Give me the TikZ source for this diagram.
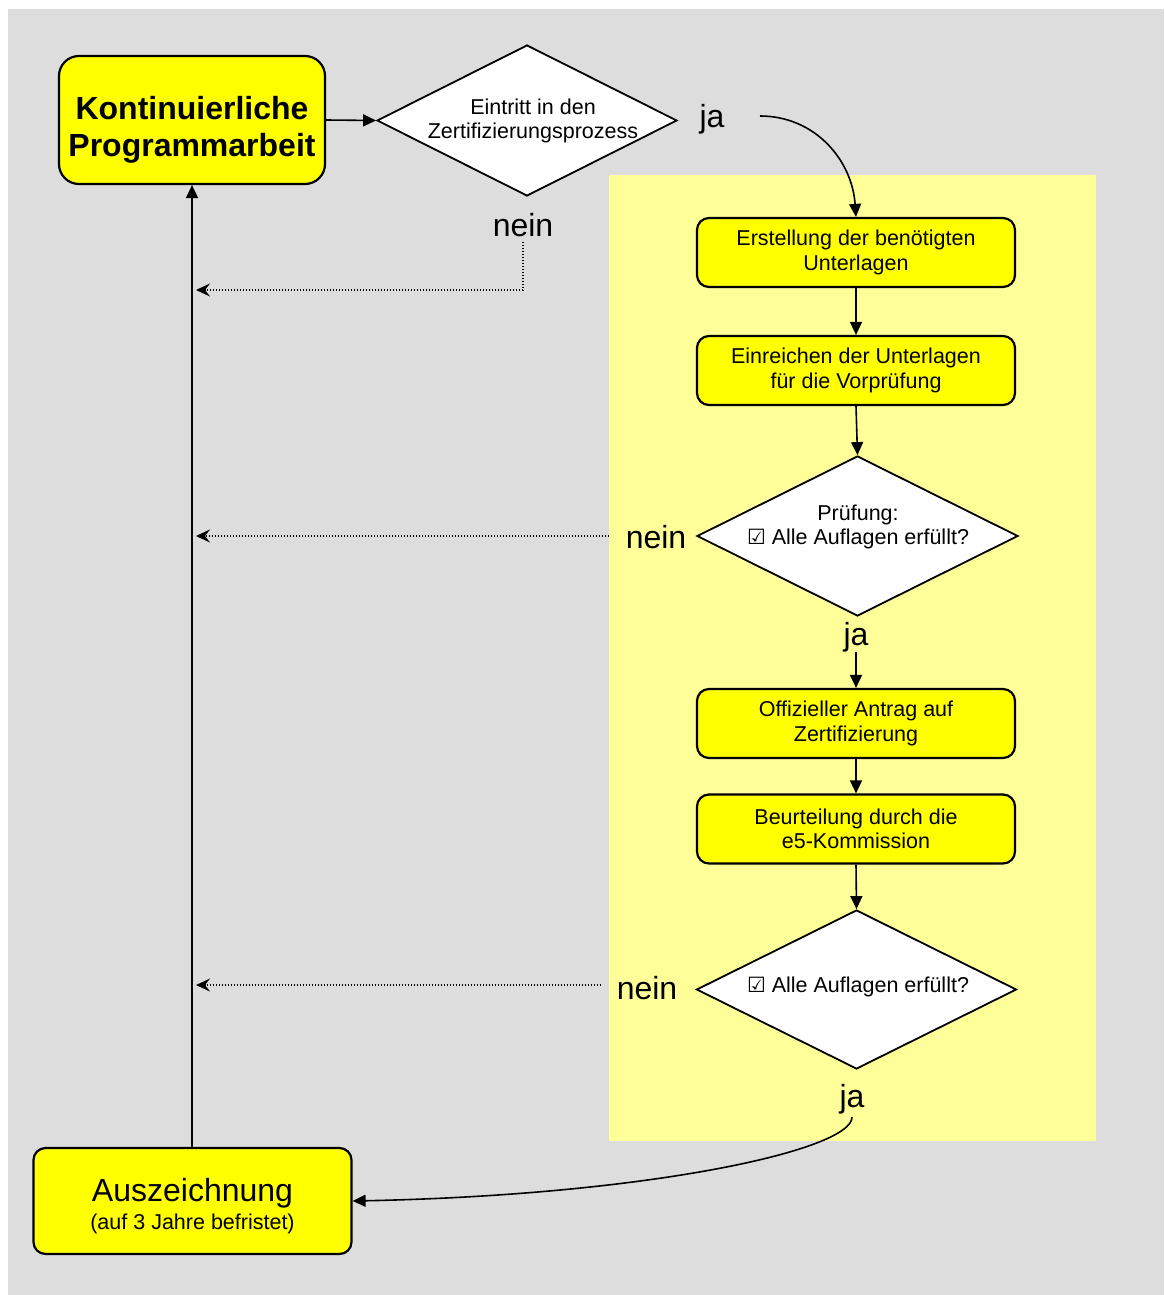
\documentclass[tikz,border=0pt]{standalone}
\usepackage{fontspec}
\setmainfont{Liberation Sans}
\newfontfamily\symfont{DejaVu Sans}
\usetikzlibrary{shapes.geometric,arrows.meta}
\definecolor{bggray}{HTML}{DDDDDD}
\definecolor{panelyellow}{HTML}{FFFF99}
\definecolor{boxyellow}{HTML}{FFFF00}
\begin{document}
\begin{tikzpicture}[x=1pt,y=-1pt,
  box/.style={draw, line width=2.2pt, fill=boxyellow, rounded corners=12pt,
    minimum width=318pt, minimum height=69pt, inner sep=0pt, align=center,
    font={\fontsize{21.5}{24.5}\selectfont}},
  decision/.style={draw, line width=1.8pt, fill=white, diamond, inner sep=0pt},
  dtext/.style={align=center, inner sep=0pt, font={\fontsize{21.5}{24.5}\selectfont}},
  answer/.style={inner sep=0pt, font={\fontsize{32}{36}\selectfont}},
  flow/.style={line width=1.6pt, -{Triangle[length=13pt,width=12pt]}},
  back/.style={line width=1.2pt, dash pattern=on 1.3pt off 1.7pt,
    -{Stealth[length=14pt,width=13pt,inset=5pt]}}
]
\useasboundingbox (0,0) rectangle (1164,1295);
\fill[bggray] (8,9) rectangle (1164,1295);
\fill[panelyellow] (609,175) rectangle (1096,1141);

% nodes
\node[box, rounded corners=20pt, minimum width=266pt, minimum height=128pt] (K) at (192,120) {};
\node[inner sep=0pt, align=center, font={\bfseries\fontsize{32}{37}\selectfont}] (KT) at (192,130) {Kontinuierliche\\Programmarbeit};
\node[decision, minimum width=300pt, minimum height=151pt] (D1) at (527,120.5) {};
\node[dtext] (D1t) at (533,121) {Eintritt in den\\Zertifizierungsprozess};
\node[answer] (ja1) at (712,119) {ja};
\node[answer] (nein1) at (523,225) {nein};

\node[box] (E) at (856,252.5) {Erstellung der benötigten\\Unterlagen};
\node[box] (V) at (856,370.5) {Einreichen der Unterlagen\\für die Vorprüfung};
\node[decision, minimum width=321pt, minimum height=160pt] (D2) at (857.5,536) {};
\node[dtext] (D2t) at (858,527) {Prüfung:\\{\symfont\fontsize{21}{22}\selectfont ☑} Alle Auflagen erfüllt?};
\node[answer] (nein2) at (656,537) {nein};
\node[answer] (ja2) at (856,637) {ja};

\node[box] (O) at (856,723.5) {Offizieller Antrag auf\\Zertifizierung};
\node[box] (B) at (856,829) {Beurteilung durch die\\e5-Kommission};
\node[decision, minimum width=320pt, minimum height=159pt] (D3) at (856.5,989.5) {};
\node[dtext] (D3t) at (858,987) {{\symfont\fontsize{21}{22}\selectfont ☑} Alle Auflagen erfüllt?};
\node[answer] (nein3) at (647,988) {nein};
\node[answer] (ja3) at (852,1099) {ja};

\node[box, minimum width=318pt, minimum height=106pt] (A) at (192.5,1201) {};
\node[inner sep=0pt, font={\fontsize{32}{36}\selectfont}] (At1) at (192.5,1193) {Auszeichnung};
\node[inner sep=0pt, font={\fontsize{21.5}{24}\selectfont}] (At2) at (192.5,1224) {(auf 3 Jahre befristet)};

% connectors
\draw[flow] (K.east) -- (D1.west);
\coordinate (jaS) at (760,116);
\draw[flow] (jaS) .. controls (815,116) and (852,160) .. (E.north);
\draw[flow] (E.south) -- (V.north);
\draw[flow] (V.south) -- (D2.north);
\draw[flow] (ja2.south) -- (O.north);
\draw[flow] (O.south) -- (B.north);
\draw[flow] (B.south) -- (D3.north);
\draw[flow] ([yshift=-3pt]ja3.south) .. controls (852,1150) and (650,1195) .. (A.east);
\draw[flow] (A.north -| K.south) -- (K.south);

\coordinate (r1) at (196,290);
\draw[back] ([yshift=-5pt]nein1.south) |- (r1);
\coordinate (p2) at (609,536);
\coordinate (r2) at (196,536);
\draw[back] (p2) -- (r2);
\coordinate (p3) at (601,985);
\coordinate (r3) at (196,985);
\draw[back] (p3) -- (r3);
\end{tikzpicture}
\end{document}
